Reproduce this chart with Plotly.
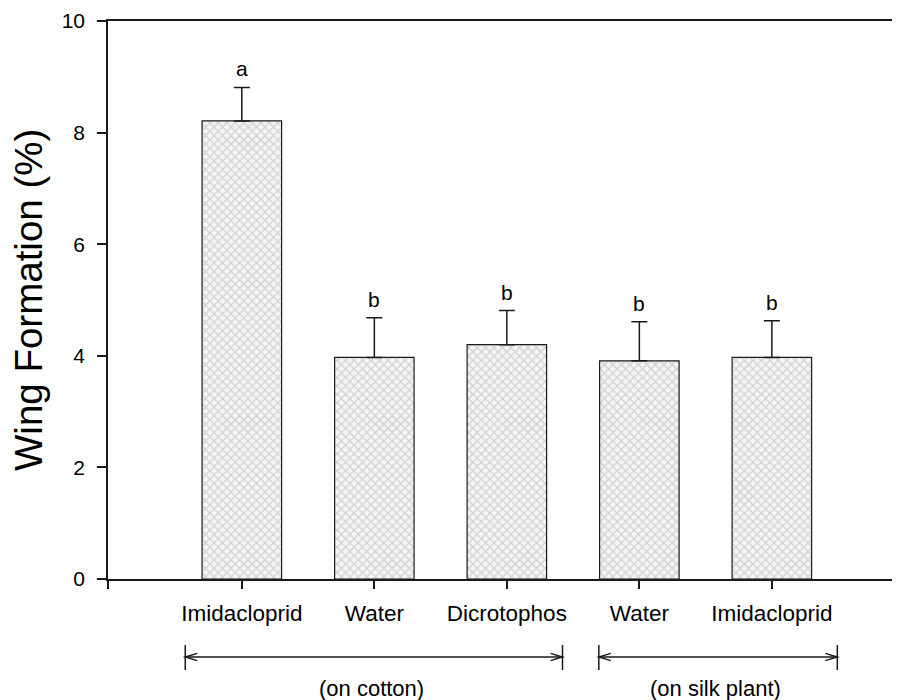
import plotly.graph_objects as go

# ---- data ----
categories = ["Imidacloprid", "Water", "Dicrotophos", "Water", "Imidacloprid"]
means = [8.21, 3.97, 4.20, 3.91, 3.97]
se = [0.60, 0.71, 0.61, 0.70, 0.66]
letters = ["a", "b", "b", "b", "b"]
y_ticks = [0, 2, 4, 6, 8, 10]

group_labels = ["(on cotton)", "(on silk plant)"]
group_start = [-0.427, 2.694]
group_end = [2.42, 4.494]

xpos = list(range(len(categories)))
FONT = "Liberation Sans, Arial, sans-serif"
LINE = "#1a1a1a"

fig = go.Figure()
fig.add_trace(go.Bar(
    x=xpos, y=means, width=0.6,
    marker=dict(
        color="#f4f4f4",
        line=dict(color=LINE, width=1.2),
        pattern=dict(shape="x", fgcolor="#b0b0b0", bgcolor="#f4f4f4", size=6, solidity=0.4),
    ),
    error_y=dict(type="data", symmetric=False, array=se, arrayminus=[0] * len(se),
                 color=LINE, thickness=1.5, width=8),
    showlegend=False,
))

# significance letters
for x, m, s, t in zip(xpos, means, se, letters):
    fig.add_annotation(x=x, y=m + s, text=t, showarrow=False, yanchor="bottom",
                       yshift=5, font=dict(family=FONT, size=21, color="black"))

# group brackets
arrow_y = -0.1398
tick_top, tick_bot = -0.1183, -0.1631
head_dx, head_dy = 0.09, 0.0065
for lab, x0, x1 in zip(group_labels, group_start, group_end):
    fig.add_shape(type="line", xref="x", yref="paper", x0=x0, x1=x1, y0=arrow_y, y1=arrow_y,
                  line=dict(color=LINE, width=1.5))
    for xe in (x0, x1):
        fig.add_shape(type="line", xref="x", yref="paper", x0=xe, x1=xe, y0=tick_top, y1=tick_bot,
                      line=dict(color=LINE, width=1.5))
    fig.add_shape(type="path", xref="x", yref="paper",
                  path=f"M {x0 + head_dx} {arrow_y + head_dy} L {x0} {arrow_y} L {x0 + head_dx} {arrow_y - head_dy}",
                  line=dict(color=LINE, width=1.5))
    fig.add_shape(type="path", xref="x", yref="paper",
                  path=f"M {x1 - head_dx} {arrow_y + head_dy} L {x1} {arrow_y} L {x1 - head_dx} {arrow_y - head_dy}",
                  line=dict(color=LINE, width=1.5))
    fig.add_annotation(x=(x0 + x1) / 2 - 0.02, y=-0.197, xref="x", yref="paper", text=lab,
                       showarrow=False, yanchor="middle",
                       font=dict(family=FONT, size=22, color="black"))

# y-axis title
fig.add_annotation(x=0, y=0.5, xref="paper", yref="paper", xshift=-80, text="Wing Formation (%)",
                   textangle=-90, showarrow=False, xanchor="center", yanchor="middle",
                   font=dict(family=FONT, size=38.5, color="black"))

fig.update_layout(
    width=892, height=692,
    margin=dict(l=100, r=0, t=13, b=121),
    paper_bgcolor="white", plot_bgcolor="white",
    bargap=0.4,
    xaxis=dict(
        range=[-1.01, 4.967],
        tickvals=[-1.01] + xpos, ticktext=[""] + categories,
        showline=True, linecolor=LINE, linewidth=1.5, mirror=True,
        ticks="outside", ticklen=8, tickwidth=1.5, tickcolor=LINE,
        showgrid=False, zeroline=False,
        tickfont=dict(family=FONT, size=22.5, color="black"),
        ticklabelstandoff=5,
    ),
    yaxis=dict(
        range=[0, 10], tickvals=y_ticks,
        showline=True, linecolor=LINE, linewidth=1.5,
        ticks="outside", ticklen=9, tickwidth=1.5, tickcolor=LINE,
        showgrid=False, zeroline=False,
        tickfont=dict(family=FONT, size=21, color="black"),
        ticklabelstandoff=8,
    ),
)

fig.write_html("out.html")
